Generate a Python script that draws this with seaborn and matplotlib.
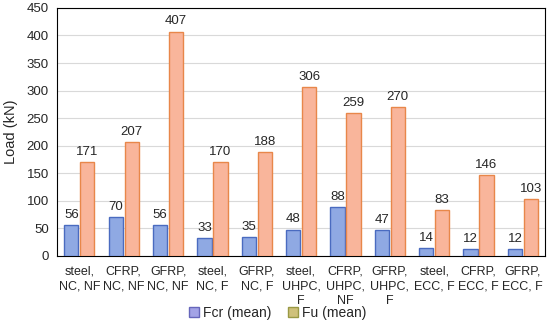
import pandas as pd
import matplotlib.pyplot as plt
import seaborn as sns
from matplotlib.patches import Patch

categories = [
    "steel,\nNC, NF", "CFRP,\nNC, NF", "GFRP,\nNC, NF", "steel,\nNC, F",
    "GFRP,\nNC, F", "steel,\nUHPC,\nF", "CFRP,\nUHPC,\nNF", "GFRP,\nUHPC,\nF",
    "steel,\nECC, F", "CFRP,\nECC, F", "GFRP,\nECC, F",
]
fcr = [56, 70, 56, 33, 35, 48, 88, 47, 14, 12, 12]
fu = [171, 207, 407, 170, 188, 306, 259, 270, 83, 146, 103]
series = ["Fcr (mean)", "Fu (mean)"]


def main():
    df = pd.DataFrame({
        "cat": categories * 2,
        "val": fcr + fu,
        "series": [series[0]] * len(fcr) + [series[1]] * len(fu),
    })

    sns.set_style("white")
    plt.rcParams["font.family"] = ["Liberation Sans", "DejaVu Sans"]

    fig = plt.figure(figsize=(5.5, 3.29), dpi=100)
    ax = fig.add_axes([0.104, 0.222, 0.887, 0.754])

    pal = {series[0]: "#8fa9e3", series[1]: "#f9b59b"}
    sns.barplot(data=df, x="cat", y="val", hue="series", palette=pal,
                saturation=1, width=0.72, gap=0.11, ax=ax, legend=False,
                zorder=3)

    edges = ["#4a6bc0", "#e8874a"]
    for cont, ec in zip(ax.containers, edges):
        for p in cont:
            p.set_edgecolor(ec)
            p.set_linewidth(1.0)
        ax.bar_label(cont, padding=3, fontsize=9.5)

    ax.set_ylim(0, 450)
    ax.set_yticks(range(0, 451, 50))
    ax.set_xlim(-0.5, len(categories) - 0.5)
    ax.grid(axis="y", color="#d9d9d9", linewidth=0.8, zorder=0)
    ax.set_axisbelow(True)
    for s in ax.spines.values():
        s.set_color("#000000")
        s.set_linewidth(0.8)
    ax.tick_params(axis="y", labelsize=9.5, length=0, pad=6)
    ax.tick_params(axis="x", labelsize=9, length=0, pad=7)
    for t in ax.get_xticklabels():
        t.set_linespacing(1.3)
    ax.set_xlabel("")
    ax.set_ylabel("Load (kN)", fontsize=10.5, labelpad=6)

    handles = [
        Patch(facecolor="#a3a3e6", edgecolor="#6666bb", label=series[0]),
        Patch(facecolor="#cfc17a", edgecolor="#999944", label=series[1]),
    ]
    fig.legend(handles=handles, loc="center", bbox_to_anchor=(0.505, 0.05),
               ncol=2, frameon=False, fontsize=10, handlelength=0.7,
               handleheight=0.7, handletextpad=0.3, columnspacing=1.2)

    plt.savefig("out.png", dpi=100)


if __name__ == "__main__":
    main()
